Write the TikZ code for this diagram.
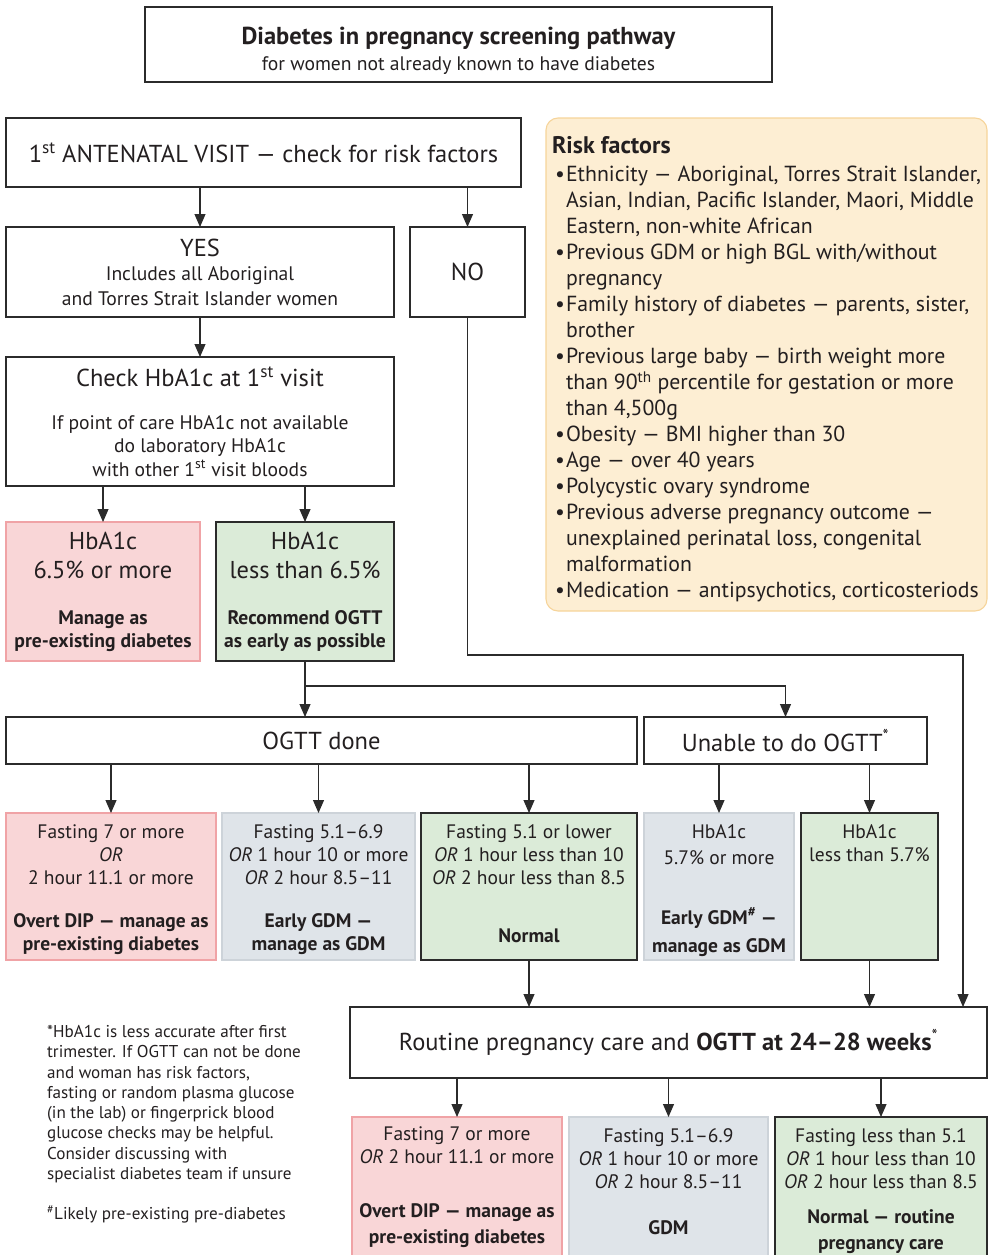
\documentclass[tikz,border=0pt]{standalone}
\usepackage{fontspec}
\setmainfont{PT Sans}
\usepackage{xcolor}
\usetikzlibrary{arrows.meta}

\definecolor{textdark}{HTML}{231F20}
\definecolor{linedark}{HTML}{2B2B2B}
\definecolor{pinkfill}{HTML}{F9D6D7}
\definecolor{pinkline}{HTML}{F0A3A6}
\definecolor{greenfill}{HTML}{DBEBD8}
\definecolor{greyfill}{HTML}{DFE4E9}
\definecolor{greyline}{HTML}{CDD3D9}
\definecolor{riskfill}{HTML}{FDEED3}
\definecolor{riskline}{HTML}{F6D49A}

\newcommand{\fontL}{\fontsize{24.5}{27}\selectfont}
\newcommand{\fontM}{\fontsize{19.6}{23.5}\selectfont}
\newcommand{\fontS}{\fontsize{19.5}{23}\selectfont}
\newcommand{\rbul}{\hspace*{3pt}\makebox[11pt][l]{\textbullet}}
\newcommand{\rind}{\hspace*{14pt}}

\begin{document}
\begin{tikzpicture}[x=1pt,y=-1pt,
  box/.style={draw=linedark,line width=1.1pt,inner sep=0pt,outer sep=0pt,align=center,text=textdark},
  pinkbox/.style={box,draw=pinkline,fill=pinkfill},
  greenbox/.style={box,fill=greenfill},
  greybox/.style={box,draw=greyline,fill=greyfill},
  arr/.style={line width=1.1pt,draw=linedark,-{Triangle[length=13pt,width=11pt]}}]
  \useasboundingbox (0,0) rectangle (989,1255);

  % heading
  \node[box,minimum width=627,minimum height=75,font=\fontsize{19.6}{26}\selectfont] (title) at (458.5,44.5)
    {\mbox{}\\[3.5pt]{\fontsize{24.5}{26}\selectfont\bfseries Diabetes in pregnancy screening pathway}\\for women not already known to have diabetes};

  % first visit
  \node[box,minimum width=515,minimum height=69,font=\fontL] (visit) at (263.5,152.5)
    {1\textsuperscript{st} ANTENATAL VISIT — check for risk factors};
  \node[box,minimum width=388,minimum height=90,font=\fontsize{19.6}{24.5}\selectfont] (yes) at (200,272)
    {{\fontL YES}\\Includes all Aboriginal\\and Torres Strait Islander women};
  \node[box,minimum width=115,minimum height=90,font=\fontL] (no) at (467.5,272) {NO};

  % risk factors
  \node[box,draw=riskline,fill=riskfill,rounded corners=12pt,minimum width=441,minimum height=493,
        align=left,font=\fontsize{21.8}{26}\selectfont] (risk) at (766.5,364.5)
    {\mbox{}\\[1pt]{\fontsize{24}{26}\selectfont\bfseries Risk factors}\\[2pt]
     \rbul Ethnicity — Aboriginal, Torres Strait Islander,\\
     \rind Asian, Indian, Pacific Islander, Maori, Middle\\
     \rind Eastern, non-white African\\
     \rbul Previous GDM or high BGL with/without\\
     \rind pregnancy\\
     \rbul Family history of diabetes — parents, sister,\\
     \rind brother\\
     \rbul Previous large baby — birth weight more\\
     \rind than 90\textsuperscript{th} percentile for gestation or more\\
     \rind than 4,500g\\
     \rbul Obesity — BMI higher than 30\\
     \rbul Age — over 40 years\\
     \rbul Polycystic ovary syndrome\\
     \rbul Previous adverse pregnancy outcome —\\
     \rind unexplained perinatal loss, congenital\\
     \rind malformation\\
     \rbul Medication — antipsychotics, corticosteriods};

  % HbA1c
  \node[box,minimum width=388,minimum height=129,font=\fontM] (check) at (200,421.5)
    {{\fontL Check HbA1c at 1\textsuperscript{st} visit}\\[19.5pt]If point of care HbA1c not available\\do laboratory HbA1c\\with other 1\textsuperscript{st} visit bloods};
  \node[pinkbox,minimum width=194,minimum height=139,font=\fontsize{19.6}{23}\selectfont] (high) at (103,591.5)
    {{\fontsize{24.4}{29}\selectfont HbA1c}\\[6pt]{\fontsize{24.4}{29}\selectfont 6.5\% or more}\\[23pt]\textbf{Manage as}\\\textbf{pre-existing diabetes}};
  \node[greenbox,minimum width=178,minimum height=139,font=\fontsize{19.6}{23}\selectfont] (low) at (305,591.5)
    {{\fontsize{24.4}{29}\selectfont HbA1c}\\[6pt]{\fontsize{24.4}{29}\selectfont less than 6.5\%}\\[23pt]\textbf{Recommend OGTT}\\\textbf{as early as possible}};

  % OGTT
  \node[box,minimum width=631,minimum height=47,font=\fontL] (ogtt) at (321.5,740.5) {OGTT done};
  \node[box,minimum width=283,minimum height=47,font=\fontL] (unable) at (785.5,740.5) {Unable to do OGTT\textsuperscript{*}};

  \node[pinkbox,minimum width=210,minimum height=147,font=\fontS] (r1) at (111,886.5)
    {\mbox{}\\[-3pt]Fasting 7 or more\\\textit{OR}\\2 hour 11.1 or more\\[20pt]\textbf{Overt DIP — manage as}\\\textbf{pre-existing diabetes}};
  \node[greybox,minimum width=193,minimum height=147,font=\fontS] (r2) at (318.5,886.5)
    {\mbox{}\\[-3pt]Fasting 5.1–6.9\\\textit{OR} 1 hour 10 or more\\\textit{OR} 2 hour 8.5–11\\[20pt]\textbf{Early GDM —}\\\textbf{manage as GDM}};
  \node[greenbox,minimum width=216,minimum height=147,font=\fontS] (r3) at (529,886.5)
    {Fasting 5.1 or lower\\\textit{OR} 1 hour less than 10\\\textit{OR} 2 hour less than 8.5\\[35pt]\textbf{Normal}\\[-17pt]\mbox{}};
  \node[greybox,minimum width=150,minimum height=147,font=\fontS] (r4) at (719,886.5)
    {\mbox{}\\[-1pt]HbA1c\\[3pt]5.7\% or more\\[37pt]\textbf{Early GDM\textsuperscript{\#} —}\\[5pt]\textbf{manage as GDM}};
  \node[greenbox,minimum width=137,minimum height=147,font=\fontS] (r5) at (869.5,886.5)
    {HbA1c\\less than 5.7\%\\[63pt]\mbox{}};

  % 24-28 weeks
  \node[box,minimum width=637,minimum height=71,font=\fontL] (routine) at (668.5,1042.5)
    {Routine pregnancy care and \textbf{OGTT at 24–28 weeks}\textsuperscript{*}};
  \node[pinkbox,minimum width=210,minimum height=141,font=\fontS] (b1) at (457,1187.5)
    {Fasting 7 or more\\\textit{OR} 2 hour 11.1 or more\\[31pt]\textbf{Overt DIP — manage as}\\[3pt]\textbf{pre-existing diabetes}};
  \node[greybox,minimum width=199,minimum height=141,font=\fontS] (b2) at (668.5,1187.5)
    {Fasting 5.1–6.9\\\textit{OR} 1 hour 10 or more\\\textit{OR} 2 hour 8.5–11\\[23pt]\textbf{GDM}\\[-11pt]\mbox{}};
  \node[greenbox,minimum width=212,minimum height=141,font=\fontS] (b3) at (881,1187.5)
    {\mbox{}\\[-1.5pt]Fasting less than 5.1\\\textit{OR} 1 hour less than 10\\\textit{OR} 2 hour less than 8.5\\[12pt]\textbf{Normal — routine}\\[3pt]\textbf{pregnancy care}};

  % footnotes
  \node[anchor=north west,inner sep=0pt,align=left,text=textdark,font=\fontsize{17.1}{20.3}\selectfont] (notes) at (47,1025)
    {*HbA1c is less accurate after first\\trimester. If OGTT can not be done\\and woman has risk factors,\\fasting or random plasma glucose\\(in the lab) or fingerprick blood\\glucose checks may be helpful.\\Consider discussing with\\specialist diabetes team if unsure\\[20pt]\textsuperscript{\#}Likely pre-existing pre-diabetes};

  % connectors
  \coordinate (split) at (305,686);
  \coordinate (nobend) at (963,655);
  \draw[arr] (yes.north |- visit.south) -- (yes.north);
  \draw[arr] (no.north |- visit.south) -- (no.north);
  \draw[arr] (yes.south) -- (check.north);
  \draw[arr] (high.north |- check.south) -- (high.north);
  \draw[arr] (low.north |- check.south) -- (low.north);
  \draw[arr] (low.south) -- (low.south |- ogtt.north);
  \draw[arr] (split) -| (unable.north);
  \draw[arr] (no.south) |- (nobend) -- (nobend |- routine.north);
  \foreach \n in {r1,r2,r3}
    \draw[arr] (\n.north |- ogtt.south) -- (\n.north);
  \foreach \n in {r4,r5}
    \draw[arr] (\n.north |- unable.south) -- (\n.north);
  \draw[arr] (r3.south) -- (r3.south |- routine.north);
  \draw[arr] (r5.south) -- (r5.south |- routine.north);
  \foreach \n in {b1,b2,b3}
    \draw[arr] (\n.north |- routine.south) -- (\n.north);
\end{tikzpicture}
\end{document}
